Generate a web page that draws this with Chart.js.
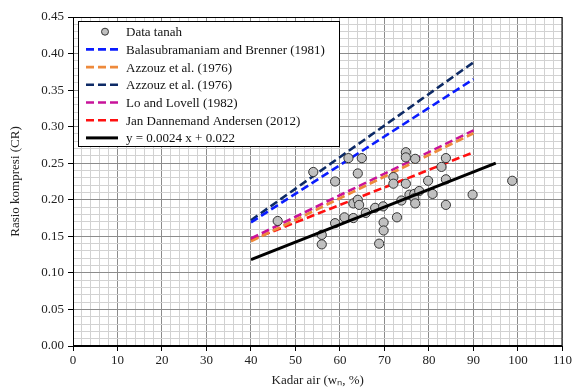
<!DOCTYPE html>
<html>
<head>
<meta charset="utf-8">
<script src="https://cdn.jsdelivr.net/npm/chart.js@4"></script>
<style>
  html, body { margin: 0; padding: 0; background: #fff; }
  #wrap { width: 574px; height: 388px; }
</style>
</head>
<body>
<div id="wrap"><canvas id="crChart" width="574" height="388"></canvas></div>
<script>
// soil data (w_n %, CR)
const moisture = [46.0, 54.0, 55.9, 55.9, 58.9, 58.9, 61.0, 61.9, 63.0, 63.0, 64.0, 64.0, 64.3, 64.9,
    65.8, 67.9, 68.8, 69.7, 69.8, 69.8, 72.0, 72.0, 72.8, 73.8, 74.8, 74.8, 74.8, 75.6, 76.7,
    76.7, 76.9, 76.9, 77.8, 79.8, 80.8, 82.8, 83.8, 83.8, 83.8, 89.8, 98.7];
const crValues = [0.171, 0.238, 0.152, 0.139, 0.225, 0.168, 0.176, 0.257, 0.195, 0.175, 0.236, 0.200, 0.193, 0.257,
    0.182, 0.189, 0.140, 0.191, 0.169, 0.158, 0.231, 0.222, 0.176, 0.199, 0.265, 0.258, 0.222, 0.207, 0.208,
    0.202, 0.195, 0.256, 0.212, 0.226, 0.208, 0.245, 0.257, 0.228, 0.193, 0.207, 0.226];

// empirical correlations, end points
const corrX = [40, 90];
const balasubramaniam = [0.169, 0.365];
const azzouzA = [0.143, 0.291];
const azzouzB = [0.172, 0.388];
const loLovell = [0.147, 0.295];
const andersen = [0.145, 0.265];
const regX = [40, 95];
const regY = [0.118, 0.250];

const seriesLabels = ['Data tanah', 'Balasubramaniam and Brenner (1981)', 'Azzouz et al. (1976)',
    'Azzouz et al. (1976)', 'Lo and Lovell (1982)', 'Jan Dannemand Andersen (2012)', 'y = 0.0024 x + 0.022'];

const xTicks = [0, 10, 20, 30, 40, 50, 60, 70, 80, 90, 100, 110];
const yTicks = [0, 0.05, 0.10, 0.15, 0.20, 0.25, 0.30, 0.35, 0.40, 0.45];

const pts = (xs, ys) => xs.map((x, i) => ({ x: x, y: ys[i] }));

const serif = '"Liberation Serif", "Times New Roman", serif';
Chart.defaults.font.family = serif;
Chart.defaults.font.size = 13;
Chart.defaults.color = '#222';

const dashed = (label, ys, color) => ({
    type: 'line',
    label: label,
    data: pts(corrX, ys),
    borderColor: color,
    borderWidth: 2.6,
    borderDash: [8, 4],
    pointRadius: 0,
    fill: false,
    order: 3
});

const isMajorX = v => xTicks.includes(Math.round(v));
const isMajorY = v => Math.round(v * 100) % 5 === 0;

// white legend box in the upper-left of the plot
const legendBox = {
    id: 'legendBox',
    afterDatasetsDraw(chart) {
        const ctx = chart.ctx;
        const area = chart.chartArea;
        const bx = area.left + 5, by = area.top + 4, bw = 261, bh = 125;
        ctx.save();
        ctx.fillStyle = '#fff';
        ctx.fillRect(bx, by, bw, bh);
        ctx.strokeStyle = '#000';
        ctx.lineWidth = 1;
        ctx.strokeRect(bx + 0.5, by + 0.5, bw, bh);
        ctx.font = '13px ' + serif;
        ctx.textBaseline = 'middle';
        ctx.fillStyle = '#111';
        chart.data.datasets.forEach((ds, i) => {
            const cy = by + 10.7 + i * 17.7;
            if (ds.type === 'scatter') {
                ctx.beginPath();
                ctx.arc(bx + 27, cy, 3.5, 0, Math.PI * 2);
                ctx.fillStyle = ds.backgroundColor;
                ctx.fill();
                ctx.strokeStyle = ds.borderColor;
                ctx.lineWidth = 1;
                ctx.stroke();
            } else {
                ctx.beginPath();
                ctx.setLineDash(ds.borderDash || []);
                ctx.strokeStyle = ds.borderColor;
                ctx.lineWidth = ds.borderWidth;
                ctx.moveTo(bx + 8, cy);
                ctx.lineTo(bx + 40, cy);
                ctx.stroke();
                ctx.setLineDash([]);
            }
            ctx.fillStyle = '#111';
            ctx.fillText(ds.label, bx + 48, cy + 1);
        });
        ctx.restore();
    },
    afterDraw(chart) {
        const a = chart.chartArea;
        const ctx = chart.ctx;
        ctx.save();
        ctx.strokeStyle = '#000';
        ctx.lineWidth = 1;
        ctx.strokeRect(a.left + 0.5, a.top + 0.5, a.right - a.left - 1, a.bottom - a.top - 1);
        ctx.restore();
    }
};

new Chart(document.getElementById('crChart').getContext('2d'), {
    data: {
        datasets: [
            {
                type: 'scatter',
                label: seriesLabels[0],
                data: pts(moisture, crValues),
                backgroundColor: '#c0c0c0',
                borderColor: '#333',
                borderWidth: 1,
                pointRadius: 4.6,
                order: 2
            },
            dashed(seriesLabels[1], balasubramaniam, '#0a1cff'),
            dashed(seriesLabels[2], azzouzA, '#ee8a3c'),
            dashed(seriesLabels[3], azzouzB, '#0d2a66'),
            dashed(seriesLabels[4], loLovell, '#c8139a'),
            dashed(seriesLabels[5], andersen, '#ff1010'),
            {
                type: 'line',
                label: seriesLabels[6],
                data: pts(regX, regY),
                borderColor: '#000',
                borderWidth: 3,
                pointRadius: 0,
                fill: false,
                order: 1
            }
        ]
    },
    options: {
        responsive: false,
        animation: false,
        layout: { padding: { top: 17, right: 10, left: 0, bottom: 0 } },
        plugins: { legend: { display: false }, tooltip: { enabled: false } },
        scales: {
            x: {
                type: 'linear',
                min: 0,
                max: 110,
                afterFit: s => { s.height = 42; },
                ticks: {
                    stepSize: 2,
                    autoSkip: false,
                    maxRotation: 0,
                    padding: 2,
                    callback: v => isMajorX(v) ? String(Math.round(v)) : ''
                },
                grid: {
                    color: c => isMajorX(c.tick.value) ? '#8c8c8c' : '#d2d2d2',
                    tickColor: c => isMajorX(c.tick.value) ? '#000' : 'rgba(0,0,0,0)',
                    tickLength: 5
                },
                border: { color: '#000' },
                title: {
                    display: true,
                    text: 'Kadar air (wₙ, %)',
                    font: { size: 13 },
                    padding: { top: 0, bottom: 0 }
                }
            },
            y: {
                type: 'linear',
                min: 0,
                max: 0.45,
                afterFit: s => { s.width = 73; },
                ticks: {
                    stepSize: 0.01,
                    autoSkip: false,
                    padding: 4,
                    callback: v => isMajorY(v) ? v.toFixed(2) : ''
                },
                grid: {
                    color: c => isMajorY(c.tick.value) ? '#8c8c8c' : '#d2d2d2',
                    tickColor: c => isMajorY(c.tick.value) ? '#000' : 'rgba(0,0,0,0)',
                    tickLength: 5
                },
                border: { color: '#000' },
                title: {
                    display: true,
                    text: 'Rasio kompresi (CR)',
                    font: { size: 13 },
                    padding: { top: 8, bottom: 0 }
                }
            }
        }
    },
    plugins: [legendBox]
});
</script>
</body>
</html>
